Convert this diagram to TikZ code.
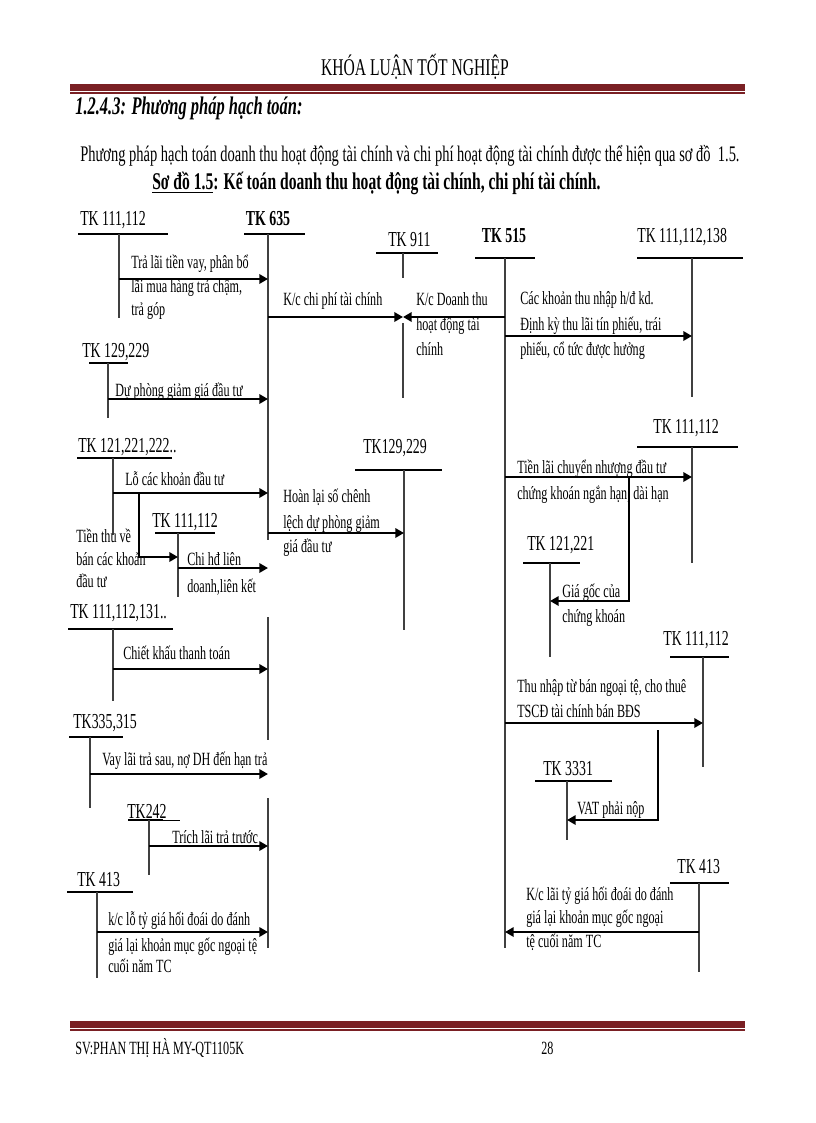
\documentclass[tikz,border=0pt]{standalone}
\usepackage{fontspec}
\setmainfont{Liberation Serif}[FakeStretch=0.65]
\usetikzlibrary{arrows.meta}
\definecolor{bandred}{RGB}{122,32,36}
\begin{document}
\begin{tikzpicture}[x=0.75pt,y=-0.75pt,
  acc/.style={anchor=base west,inner sep=0,font=\fontsize{16}{18}\selectfont},
  accb/.style={anchor=base,inner sep=0,font=\fontsize{16}{18}\selectfont\bfseries},
  txt/.style={anchor=base west,inner sep=0,font=\fontsize{14}{16}\selectfont},
  tbar/.style={line width=1.5pt},
  vln/.style={line width=0.9pt,black!75},
  arr/.style={line width=2pt,-{Triangle[length=6.5pt,width=7pt]}},
  band/.style={fill=bandred},
]
\useasboundingbox (0,0) rectangle (816,1123);
% header
\node[anchor=base,inner sep=0,font=\fontsize{18}{21}\selectfont] (hdr) at (415,76) {KHÓA LUẬN TỐT NGHIỆP};
\fill[band] (70,84) rectangle (745,91);
\draw[bandred,line width=0.8pt] (70,93) -- (745,93);
\node[anchor=base west,inner sep=0,font=\fontsize{19}{22}\selectfont\bfseries\itshape] (sec) at (75,115) {1.2.4.3: Phương pháp hạch toán:};
\node[anchor=base west,inner sep=0,font=\fontsize{16.7}{19}\selectfont] (par) at (80,162) {Phương pháp hạch toán doanh thu hoạt động tài chính và chi phí hoạt động tài chính được thể hiện qua sơ đồ\ \ 1.5.};
\node[anchor=base west,inner sep=0,font=\fontsize{18}{21}\selectfont\bfseries] (cap) at (152,190) {\underline{Sơ đồ 1.5}: Kế toán doanh thu hoạt động tài chính, chi phí tài chính.};

% ---- account coordinates (top of vertical lines)
\coordinate (vA) at (119,234);   % TK 111,112
\coordinate (v635) at (268,234);
\coordinate (v911) at (403,253);
\coordinate (v515) at (505,258);
\coordinate (v138) at (692,258);
\coordinate (vB) at (108,363);   % TK 129,229
\coordinate (vC) at (113,458);   % TK 121,221,222
\coordinate (vD) at (178,533);   % TK 111,112 mid
\coordinate (vE) at (404,470);   % TK129,229
\coordinate (vF) at (113,629);   % TK 111,112,131
\coordinate (vG) at (90,737);    % TK335,315
\coordinate (vH) at (149,820);   % TK242
\coordinate (vI) at (97,892);    % TK 413 left
\coordinate (vJ) at (692,447);   % TK 111,112 right top
\coordinate (vK) at (550,563);   % TK 121,221
\coordinate (vL) at (703,657);   % TK 111,112 right mid
\coordinate (vM) at (567,781);   % TK 3331
\coordinate (vN) at (699,883);   % TK 413 right

% ---- labels and T bars
\node[acc] (lA) at (80,225) {TK 111,112};
\draw[tbar] (78,234) -- (168,234);
\draw[vln] (vA) -- (119,318);

\node[accb] (l635) at (268,225) {TK 635};
\draw[tbar] (244,234) -- (305,234);
\draw[vln] (v635) -- (268,540);
\draw[vln] (268,617) -- (268,740);
\draw[vln] (268,798) -- (268,948);

\node[acc] (l911) at (388,247) {TK 911};
\draw[tbar] (376,253) -- (438,253);
\draw[vln] (v911) -- (403,278);
\draw[vln] (403,323) -- (403,398);

\node[accb] (l515) at (504,243) {TK 515};
\draw[tbar] (475,258) -- (535,258);
\draw[vln] (v515) -- (505,948);

\node[acc] (l138) at (637,243) {TK 111,112,138};
\draw[tbar] (637,258) -- (743,258);
\draw[vln] (v138) -- (692,397);

\node[acc] (lB) at (82,357) {TK 129,229};
\draw[tbar] (89,363) -- (128,363);
\draw[vln] (vB) -- (108,418);

\node[acc] (lC) at (78,452) {TK 121,221,222..};
\draw[tbar] (77,458) -- (172,458);
\draw[vln] (vC) -- (113,535);

\node[acc] (lD) at (152,527) {TK 111,112};
\draw[tbar] (155,533) -- (215,533);
\draw[vln] (vD) -- (178,597);

\node[acc] (lE) at (363,453) {TK129,229};
\draw[tbar] (355,470) -- (442,470);
\draw[vln] (vE) -- (404,630);

\node[acc] (lF) at (70,618) {TK 111,112,131..};
\draw[tbar] (68,629) -- (173,629);
\draw[vln] (vF) -- (113,701);

\node[acc] (lG) at (73,728) {TK335,315};
\draw[tbar] (69,737) -- (123,737);
\draw[vln] (vG) -- (90,808);

\node[acc] (lH) at (127,818) {TK242};
\draw[line width=1.2pt] (128,820) -- (163,820);
\draw[line width=0.6pt] (163,820) -- (180,820);
\draw[vln] (vH) -- (149,875);

\node[acc] (lI) at (77,886) {TK 413};
\draw[tbar] (67,892) -- (133,892);
\draw[vln] (vI) -- (97,978);

\node[acc] (lJ) at (653,433) {TK 111,112};
\draw[tbar] (637,447) -- (738,447);
\draw[vln] (vJ) -- (692,563);

\node[acc] (lK) at (527,550) {TK 121,221};
\draw[tbar] (523,563) -- (580,563);
\draw[vln] (vK) -- (550,657);

\node[acc] (lL) at (663,645) {TK 111,112};
\draw[tbar] (670,657) -- (729,657);
\draw[vln] (vL) -- (703,767);

\node[acc] (lM) at (543,775) {TK 3331};
\draw[tbar] (535,781) -- (612,781);
\draw[vln] (vM) -- (567,840);

\node[acc] (lN) at (677,873) {TK 413};
\draw[tbar] (670,883) -- (729,883);
\draw[vln] (vN) -- (699,972);

% ---- arrows and texts
\draw[arr] (vA |- 0,279) -- (v635 |- 0,279);
\node[txt] (t1a) at (131,268) {Trả lãi tiền vay, phân bổ};
\node[txt] (t1b) at (131,292) {lãi mua hàng trả chậm,};
\node[txt] (t1c) at (131,315) {trả góp};

\draw[arr] (v635 |- 0,317) -- (v911 |- 0,317);
\node[txt] (t2) at (283,305) {K/c chi phí tài chính};
\draw[arr] (v515 |- 0,317) -- (v911 |- 0,317);
\node[txt] (t3a) at (416,305) {K/c Doanh thu};
\node[txt] (t3b) at (416,330) {hoạt động tài};
\node[txt] (t3c) at (416,355) {chính};

\draw[arr] (v515 |- 0,336) -- (v138 |- 0,336);
\node[txt] (t4a) at (520,304) {Các khoản thu nhập h/đ kd.};
\node[txt] (t4b) at (520,330) {Định kỳ thu lãi tín phiếu, trái};
\node[txt] (t4c) at (520,355) {phiếu, cổ tức được hưởng};

\draw[arr] (vB |- 0,399) -- (v635 |- 0,399);
\node[txt] (t5) at (115,396) {Dự phòng giảm giá đầu tư};

\draw[arr] (vC |- 0,493) -- (v635 |- 0,493);
\node[txt] (t6) at (125,485) {Lỗ các khoản đầu tư};
\coordinate (br1) at (139,493);
\draw[arr] (br1) -- (br1 |- 0,557) -- (vD |- 0,557);
\node[txt] (t7a) at (76,542) {Tiền thu về};
\node[txt] (t7b) at (76,565) {bán các khoản};
\node[txt] (t7c) at (76,587) {đầu tư};

\draw[arr] (vD |- 0,568) -- (v635 |- 0,568);
\node[txt] (t8a) at (187,565) {Chi hđ liên};
\node[txt] (t8b) at (187,592) {doanh,liên kết};

\draw[arr] (v635 |- 0,533) -- (vE |- 0,533);
\node[txt] (t9a) at (283,502) {Hoàn lại số chênh};
\node[txt] (t9b) at (283,528) {lệch dự phòng giảm};
\node[txt] (t9c) at (283,552) {giá đầu tư};

\draw[arr] (vF |- 0,669) -- (v635 |- 0,669);
\node[txt] (t10) at (123,659) {Chiết khấu thanh toán};

\draw[arr] (vG |- 0,774) -- (v635 |- 0,774);
\node[txt] (t11) at (102,765) {Vay lãi trả sau, nợ DH đến hạn trả};

\draw[arr] (vH |- 0,846) -- (v635 |- 0,846);
\node[txt] (t12) at (172,843) {Trích lãi trả trước};

\draw[arr] (vI |- 0,932) -- (v635 |- 0,932);
\node[txt] (t13a) at (108,925) {k/c lỗ tỷ giá hối đoái do đánh};
\node[txt] (t13b) at (108,951) {giá lại khoản mục gốc ngoại tệ};
\node[txt] (t13c) at (108,972) {cuối năm TC};

\draw[arr] (v515 |- 0,477) -- (vJ |- 0,477);
\node[txt] (t14a) at (517,473) {Tiền lãi chuyển nhượng đầu tư};
\node[txt] (t14b) at (517,499) {chứng khoán ngắn hạn, dài hạn};
\coordinate (br2) at (629,477);
\draw[arr] (br2) -- (br2 |- 0,601) -- (vK |- 0,601);
\node[txt] (t15a) at (562,597) {Giá gốc của};
\node[txt] (t15b) at (562,622) {chứng khoán};

\draw[arr] (v515 |- 0,723) -- (vL |- 0,723);
\node[txt] (t16a) at (517,692) {Thu nhập từ bán ngoại tệ, cho thuê};
\node[txt] (t16b) at (517,717) {TSCĐ tài chính bán BĐS};
\coordinate (br3) at (658,730);
\draw[arr] (br3) -- (br3 |- 0,820) -- (vM |- 0,820);
\node[txt] (t17) at (577,814) {VAT phải nộp};

\draw[arr] (vN |- 0,932) -- (v515 |- 0,932);
\node[txt] (t18a) at (526,900) {K/c lãi tỷ giá hối đoái do đánh};
\node[txt] (t18b) at (526,923) {giá lại khoản mục gốc ngoại};
\node[txt] (t18c) at (526,947) {tệ cuối năm TC};

% footer
\fill[band] (70,1021) rectangle (745,1028);
\draw[bandred,line width=0.8pt] (70,1030) -- (745,1030);
\node[anchor=base west,inner sep=0,font=\fontsize{14}{16}\selectfont] (ft1) at (75,1054) {SV:PHAN THỊ HÀ MY-QT1105K};
\node[anchor=base west,inner sep=0,font=\fontsize{14}{16}\selectfont] (ft2) at (541,1054) {28};
\end{tikzpicture}
\end{document}
